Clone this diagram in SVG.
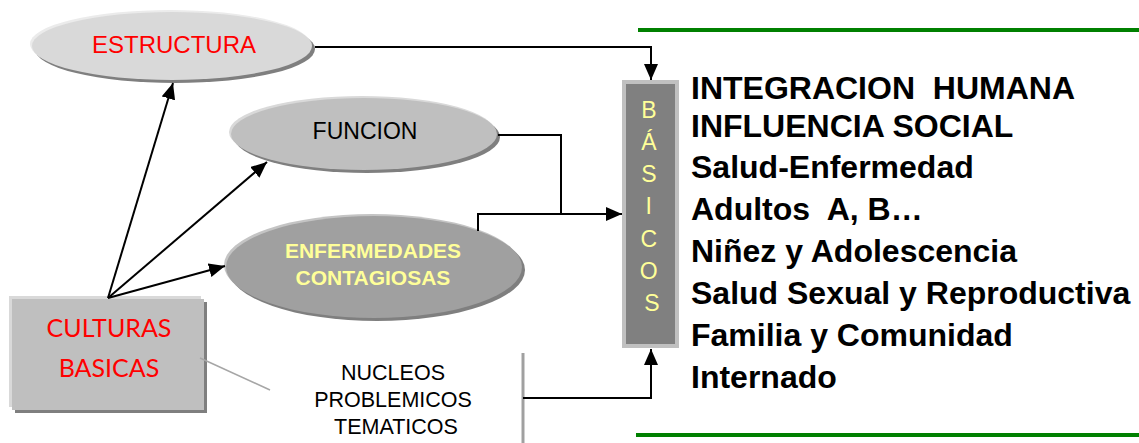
<svg xmlns="http://www.w3.org/2000/svg" width="1139" height="443" viewBox="0 0 1139 443">
<defs>
<marker id="ah" markerUnits="userSpaceOnUse" markerWidth="16" markerHeight="14" refX="16" refY="7" orient="auto">
<path d="M0,0 L16,7 L0,14 z" fill="#000"/>
</marker>
<style>
.conn{fill:none;stroke:#000;stroke-width:2}
.arr{marker-end:url(#ah)}
.sh{fill:#7f7f7f}
.sans{font-family:"Liberation Sans",Arial,sans-serif}
.list{font-family:"Liberation Sans",Arial,sans-serif;font-weight:bold;font-size:32px;fill:#000;white-space:pre}
.bas{font-family:"Liberation Sans",Arial,sans-serif;font-size:23px;fill:#ffff99;text-anchor:middle}
.green{stroke:#008000;stroke-width:4}
</style>
</defs>
<rect width="1139" height="443" fill="#fff"/>

<g id="lines">
<line class="green" x1="638" y1="30" x2="1139" y2="30"/>
<line class="green" x1="636" y1="435" x2="1139" y2="435"/>
</g>

<g id="estructura">
<ellipse cx="175" cy="49" rx="140" ry="34" class="sh"/>
<ellipse cx="170" cy="44" rx="140" ry="34" fill="#ebebeb"/>
<ellipse cx="172" cy="46" rx="140" ry="34" fill="#d9d9d9"/>
<text x="174" y="53" class="sans" font-size="24" fill="#ff0000" text-anchor="middle">ESTRUCTURA</text>
</g>

<g id="funcion">
<ellipse cx="367" cy="137" rx="133" ry="36" class="sh"/>
<ellipse cx="362" cy="132" rx="133" ry="36" fill="#d9d9d9"/>
<ellipse cx="364" cy="134" rx="133" ry="36" fill="#bfbfbf"/>
<text x="365" y="139" class="sans" font-size="23" fill="#000" text-anchor="middle">FUNCION</text>
</g>

<g id="enfermedades">
<ellipse cx="377" cy="270" rx="148" ry="51" class="sh"/>
<ellipse cx="372" cy="265" rx="148" ry="51" fill="#c4c4c4"/>
<ellipse cx="374" cy="267" rx="148" ry="51" fill="#a0a0a0"/>
<text x="373" y="258" class="sans" font-size="21" font-weight="bold" fill="#ffff99" text-anchor="middle">ENFERMEDADES</text>
<text x="373" y="285" class="sans" font-size="21" font-weight="bold" fill="#ffff99" text-anchor="middle">CONTAGIOSAS</text>
</g>

<g id="culturas">
<rect x="15" y="302" width="192" height="111" class="sh"/>
<rect x="9" y="296" width="192" height="111" fill="#d9d9d9"/>
<rect x="12" y="299" width="192" height="111" fill="#bfbfbf"/>
<text x="109" y="337" font-family="Lato,'Liberation Sans',sans-serif" font-size="25" fill="#ff0000" text-anchor="middle">CULTURAS</text>
<text x="109" y="377" font-family="Lato,'Liberation Sans',sans-serif" font-size="25" fill="#ff0000" text-anchor="middle">BASICAS</text>
</g>

<g id="nucleos">
<text class="sans" font-size="21.5" fill="#000" text-anchor="middle">
<tspan x="396" y="380">NUCLEOS</tspan>
<tspan x="396" y="407">PROBLEMICOS</tspan>
<tspan x="396" y="434">TEMATICOS</tspan>
</text>
</g>

<g id="basicos">
<rect x="624" y="82" width="53" height="264" fill="#808080" stroke="#c0c0c0" stroke-width="4"/>
<text class="bas">
<tspan x="652" y="118">B</tspan>
<tspan x="652" y="150">Á</tspan>
<tspan x="652" y="182">S</tspan>
<tspan x="652" y="214">I</tspan>
<tspan x="652" y="247">C</tspan>
<tspan x="652" y="279">O</tspan>
<tspan x="652" y="311">S</tspan>
</text>
</g>

<g id="temas">
<text class="list" xml:space="preserve"><tspan x="691" y="99">INTEGRACION  HUMANA</tspan><tspan x="691" y="137">INFLUENCIA SOCIAL</tspan><tspan x="691" y="178">Salud-Enfermedad</tspan><tspan x="691" y="220">Adultos  A, B…</tspan><tspan x="691" y="262">Niñez y Adolescencia</tspan><tspan x="691" y="304">Salud Sexual y Reproductiva</tspan><tspan x="691" y="346">Familia y Comunidad</tspan><tspan x="691" y="388">Internado</tspan></text>
</g>

<g id="connectors">
<path class="conn arr" d="M315,47 H651 V80"/>
<path class="conn" d="M498,135 H561 V214"/>
<path class="conn arr" d="M478,231 V214 H622"/>
<line x1="523" y1="353" x2="523" y2="443" stroke="#a0a0a0" stroke-width="3"/>
<path class="conn arr" d="M523,398 H651 V349"/>
<line class="conn arr" x1="108" y1="298" x2="173" y2="83"/>
<line class="conn arr" x1="108" y1="298" x2="267" y2="162"/>
<line class="conn arr" x1="108" y1="298" x2="225" y2="266"/>
<line x1="200" y1="358" x2="270" y2="390" stroke="#a6a6a6" stroke-width="1.5"/>
</g>
</svg>
